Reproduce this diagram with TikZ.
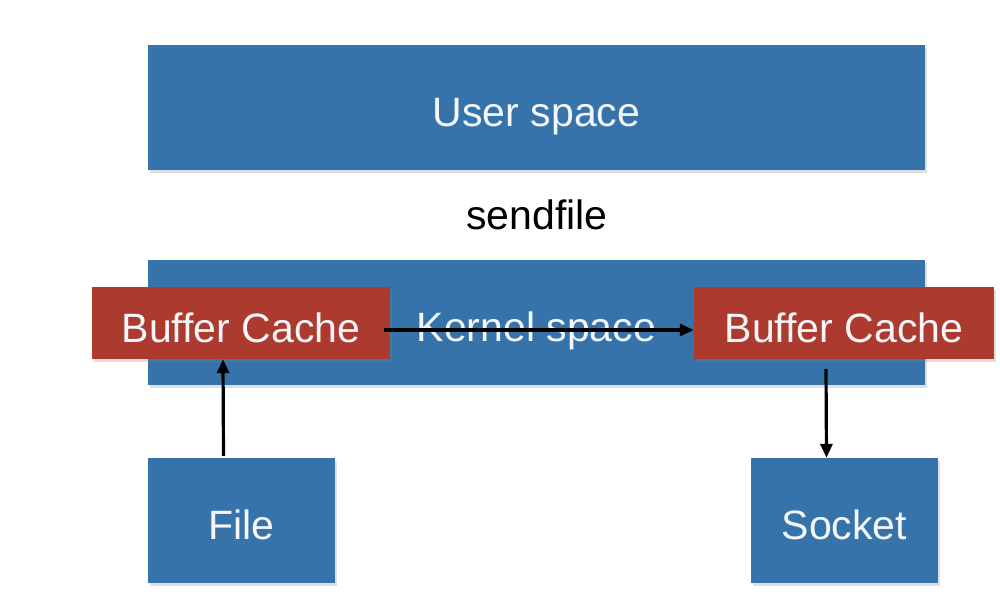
\documentclass[tikz,border=0pt]{standalone}
\usepackage{fontspec}
\setmainfont{Liberation Sans}
\usetikzlibrary{arrows.meta,shadows}
\definecolor{boxblue}{HTML}{3573AA}
\definecolor{boxred}{HTML}{AD3A2F}
\definecolor{txtwhite}{HTML}{F4F6F8}
\begin{document}
\begin{tikzpicture}[x=1pt,y=-1pt,
  base/.style={rectangle,inner sep=0pt,text=txtwhite,
    font=\fontsize{41}{48}\selectfont,text height=38pt,text depth=0pt,
    drop shadow={opacity=0.25,shadow xshift=1.5pt,shadow yshift=-2.5pt}},
  bluebox/.style={base,fill=boxblue},
  redbox/.style={base,fill=boxred},
  arr/.style={-{Triangle[length=14pt,width=12pt]},line width=3.2pt,black}]
\useasboundingbox (0,0) rectangle (1000,606);
\fill[white] (0,0) rectangle (1000,606);
\node[bluebox,minimum width=777pt,minimum height=125pt] (user) at (536.5,107.5) {User space};
\node[font=\fontsize{41}{48}\selectfont,text=black] (sf) at (537,215) {sendfile};
\node[bluebox,minimum width=777pt,minimum height=125pt] (kernel) at (536.5,322.5) {Kernel space};
\node[redbox,minimum width=298pt,minimum height=72pt] (bcL) at (241,323) {Buffer Cache};
\node[redbox,minimum width=300pt,minimum height=72pt] (bcR) at (844,323) {Buffer Cache};
\node[bluebox,minimum width=187pt,minimum height=125pt] (file) at (241.5,520.5) {File};
\node[bluebox,minimum width=187pt,minimum height=125pt] (socket) at (844.5,520.5) {Socket};
\draw[arr] ([xshift=-6pt,yshift=-7pt]bcL.east) -- ([yshift=-7pt]bcR.west);
\draw[arr] ([xshift=-18pt,yshift=2pt]file.north) -- ([xshift=-18pt]bcL.south);
\draw[arr] ([xshift=-18pt,yshift=-10pt]bcR.south) -- ([xshift=-18pt]socket.north);
\end{tikzpicture}
\end{document}
